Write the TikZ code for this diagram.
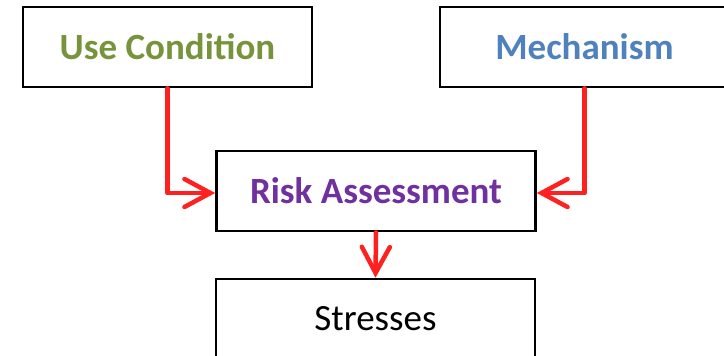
\documentclass[tikz,border=0pt]{standalone}
\usepackage{fontspec}
\setmainfont{Carlito}
\usepackage{xcolor}
\usepackage{tikz}
\definecolor{usegreen}{HTML}{77933C}
\definecolor{mechblue}{HTML}{4F81BD}
\definecolor{riskpurple}{HTML}{7030A0}
\definecolor{flowred}{HTML}{FF2020}
\usetikzlibrary{arrows.meta, positioning, calc}

\begin{document}
\begin{tikzpicture}[
    x=1pt, y=-1pt,
    block/.style={draw, line width=2.6pt, rectangle, minimum width=289pt, minimum height=80pt, inner sep=0pt, font=\fontsize{37}{44}\selectfont},
    flow/.style={-{Straight Barb[length=26pt, width=28pt, line cap=round]}, draw=flowred, line width=4.5pt, line cap=round, line join=round}
]
    \clip (0,0) rectangle (724,356);

    % Inputs
    \node[block, font=\fontsize{37}{44}\selectfont\bfseries, text=usegreen] (uc) at (167.5,47) {Use Condition};
    \node[block, font=\fontsize{37}{44}\selectfont\bfseries, text=mechblue] (mech) at (584.5,47) {Mechanism};

    % Assessment
    \node[block, minimum width=319pt, font=\fontsize{37}{44}\selectfont\bfseries, text=riskpurple] (risk) at (376,191) {Risk Assessment};

    % Output
    \node[block, minimum width=319pt] (str) at (375.5,319) {Stresses};

    % Arrows
    \draw[flow] (uc.south) |- ([yshift=-2pt]risk.west);
    \draw[flow] (mech.south) |- ([yshift=-2pt]risk.east);
    \draw[flow] (risk.south) -- (str.north);
\end{tikzpicture}
\end{document}
